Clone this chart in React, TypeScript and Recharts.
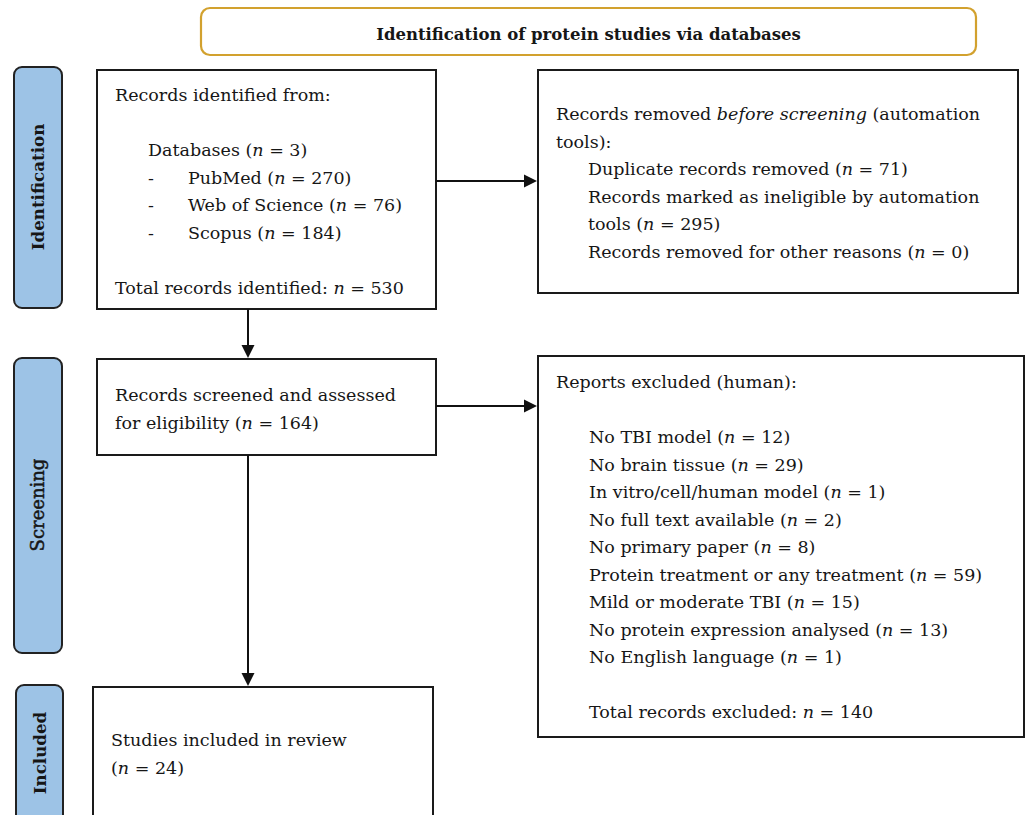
import { ComposedChart, ReferenceArea, ReferenceLine, XAxis, YAxis } from "recharts"

const FONT = "'DejaVu Serif', serif"
const TEXT_SIZE = 17.5
const LINE_H = 27.5

// Stage names shown in the blue side boxes
const stageNames = ["Identification", "Screening", "Included"]
const headerTitle = "Identification of protein studies via databases"

// Identification
const databaseCount = 3
const databaseNames = ["PubMed", "Web of Science", "Scopus"]
const databaseCounts = [270, 76, 184]
const identifiedTotal = 530

// Removed before screening
const removedReasons = [
  "Duplicate records removed",
  "Records marked as ineligible by automation\ntools",
  "Records removed for other reasons",
]
const removedCounts = [71, 295, 0]

// Screening
const screenedCount = 164

const excludedReasons = [
  "No TBI model",
  "No brain tissue",
  "In vitro/cell/human model",
  "No full text available",
  "No primary paper",
  "Protein treatment or any treatment",
  "Mild or moderate TBI",
  "No protein expression analysed",
  "No English language",
]
const excludedCounts = [12, 29, 1, 2, 8, 59, 15, 13, 1]
const excludedTotal = 140

// Included
const includedCount = 24

type Seg = { t: string; it?: boolean }
type Cell = { x: number; segs: Seg[] }
type Line = Cell[] | null

const nPart = (n: number): Seg[] => [{ t: " (" }, { t: "n", it: true }, { t: ` = ${n})` }]
const nTotal = (label: string, n: number): Seg[] => [{ t: label + " " }, { t: "n", it: true }, { t: ` = ${n}` }]

const identifiedLines: Line[] = [
  [{ x: 18, segs: [{ t: "Records identified from:" }] }],
  null,
  [{ x: 51, segs: [{ t: "Databases" }, ...nPart(databaseCount)] }],
  ...databaseNames.map((name, i) => [
    { x: 51, segs: [{ t: "-" }] },
    { x: 91, segs: [{ t: name }, ...nPart(databaseCounts[i])] },
  ]),
  null,
  [{ x: 18, segs: nTotal("Total records identified:", identifiedTotal) }],
]

const removedLines: Line[] = [
  [{ x: 18, segs: [{ t: "Records removed " }, { t: "before screening", it: true }, { t: " (automation" }] }],
  [{ x: 18, segs: [{ t: "tools):" }] }],
  ...removedReasons.flatMap((reason, i) => {
    const parts = reason.split("\n")
    return parts.map((p, j) => [
      { x: 50, segs: j === parts.length - 1 ? [{ t: p }, ...nPart(removedCounts[i])] : [{ t: p }] },
    ])
  }),
]

const screenedLines: Line[] = [
  [{ x: 18, segs: [{ t: "Records screened and assessed" }] }],
  [{ x: 18, segs: [{ t: "for eligibility" }, ...nPart(screenedCount)] }],
]

const excludedLines: Line[] = [
  [{ x: 18, segs: [{ t: "Reports excluded (human):" }] }],
  null,
  ...excludedReasons.map((r, i) => [{ x: 51, segs: [{ t: r }, ...nPart(excludedCounts[i])] }]),
  null,
  [{ x: 51, segs: nTotal("Total records excluded:", excludedTotal) }],
]

const includedLines: Line[] = [
  [{ x: 18, segs: [{ t: "Studies included in review" }] }],
  [{ x: 18, segs: [{ t: "(" }, { t: "n", it: true }, { t: ` = ${includedCount})` }] }],
]

// layout of the flow boxes
const boxes = [
  { x1: 97, x2: 436, y1: 70, y2: 309, first: 31, lines: identifiedLines },
  { x1: 538, x2: 1018, y1: 70, y2: 293, first: 50, lines: removedLines },
  { x1: 97, x2: 436, y1: 359, y2: 455, first: 42, lines: screenedLines },
  { x1: 538, x2: 1024, y1: 356, y2: 737, first: 32, lines: excludedLines },
  { x1: 93, x2: 433, y1: 687, y2: 840, first: 59, lines: includedLines },
]

const stageBoxes = [
  { x1: 14, x2: 62, y1: 67, y2: 308, bold: true, size: 16.7 },
  { x1: 14, x2: 62, y1: 358, y2: 653, bold: false, size: 18 },
  { x1: 16, x2: 63, y1: 685, y2: 840, bold: true, size: 16.7 },
]
const stageLabelY = [187, 505, 753]

const arrows = [
  [{ x: 248, y: 309 }, { x: 248, y: 358 }],
  [{ x: 248, y: 455 }, { x: 248, y: 686 }],
  [{ x: 436, y: 181 }, { x: 537, y: 181 }],
  [{ x: 436, y: 406 }, { x: 537, y: 406 }],
]

const renderLines = (lines: Line[], first: number) => (props: any) => {
  const { x, y } = props.viewBox
  return (
    <g>
      {lines.map((line, i) =>
        line
          ? line.map((cell, j) => (
              <text
                key={`${i}-${j}`}
                x={x + cell.x}
                y={y + first + i * LINE_H}
                fontFamily={FONT}
                fontSize={TEXT_SIZE}
                fill="#161616"
                style={{ whiteSpace: "pre" }}
              >
                {cell.segs.map((s, k) => (
                  <tspan key={k} fontStyle={s.it ? "italic" : undefined}>
                    {s.t}
                  </tspan>
                ))}
              </text>
            ))
          : null,
      )}
    </g>
  )
}

const roundRect = (rx: number, fill: string, stroke: string, sw: number) => (props: any) => (
  <rect x={props.x} y={props.y} width={props.width} height={props.height} rx={rx} ry={rx} fill={fill} stroke={stroke} strokeWidth={sw} />
)

const arrowShape = (props: any) => {
  const { x1, y1, x2, y2 } = props
  const len = 13
  const half = 6.5
  const dx = x2 - x1
  const dy = y2 - y1
  const d = Math.sqrt(dx * dx + dy * dy)
  const ux = dx / d
  const uy = dy / d
  const bx = x2 - ux * len
  const by = y2 - uy * len
  const pts = `${x2},${y2} ${bx - uy * half},${by + ux * half} ${bx + uy * half},${by - ux * half}`
  return (
    <g>
      <line x1={x1} y1={y1} x2={bx} y2={by} stroke="#111" strokeWidth={2} />
      <polygon points={pts} fill="#111" />
    </g>
  )
}

export default function App() {
  return (
    <div style={{ position: "absolute", left: 0, top: 0 }}>
      <ComposedChart width={1028} height={815} margin={{ top: 0, right: 0, bottom: 0, left: 0 }} data={[]}>
        <XAxis type="number" dataKey="x" domain={[0, 1028]} allowDataOverflow hide />
        <YAxis type="number" dataKey="y" domain={[0, 815]} allowDataOverflow reversed hide />

        {/* header */}
        <ReferenceArea
          x1={201}
          x2={976}
          y1={8}
          y2={55}
          ifOverflow="visible"
          shape={roundRect(9, "#fff", "#D2A12E", 2.2)}
          label={(p: any) => (
            <text
              x={p.viewBox.x + p.viewBox.width / 2}
              y={p.viewBox.y + 32}
              textAnchor="middle"
              fontFamily={FONT}
              fontWeight="bold"
              fontSize={16.5}
              fill="#161616"
            >
              {headerTitle}
            </text>
          )}
        />

        {/* stage labels */}
        {stageBoxes.map((s, i) => (
          <ReferenceArea
            key={`stage-${i}`}
            x1={s.x1}
            x2={s.x2}
            y1={s.y1}
            y2={s.y2}
            ifOverflow="visible"
            shape={roundRect(8, "#9DC3E6", "#222", 2)}
            label={(p: any) => {
              const cx = p.viewBox.x + p.viewBox.width / 2 + 6
              const cy = stageLabelY[i]
              return (
                <text
                  x={cx}
                  y={cy}
                  textAnchor="middle"
                  transform={`rotate(-90 ${cx} ${cy})`}
                  fontFamily={FONT}
                  fontWeight={s.bold ? "bold" : "normal"}
                  fontSize={s.size}
                  fill="#161616"
                  stroke={s.bold ? undefined : "#161616"}
                  strokeWidth={s.bold ? undefined : 0.5}
                >
                  {stageNames[i]}
                </text>
              )
            }}
          />
        ))}

        {/* flow boxes */}
        {boxes.map((b, i) => (
          <ReferenceArea
            key={`box-${i}`}
            x1={b.x1}
            x2={b.x2}
            y1={b.y1}
            y2={b.y2}
            ifOverflow="visible"
            shape={roundRect(0, "#fff", "#1a1a1a", 2)}
            label={renderLines(b.lines, b.first)}
          />
        ))}

        {/* connectors */}
        {arrows.map((seg, i) => (
          <ReferenceLine key={`arrow-${i}`} segment={seg} ifOverflow="visible" shape={arrowShape} />
        ))}
      </ComposedChart>
    </div>
  )
}
